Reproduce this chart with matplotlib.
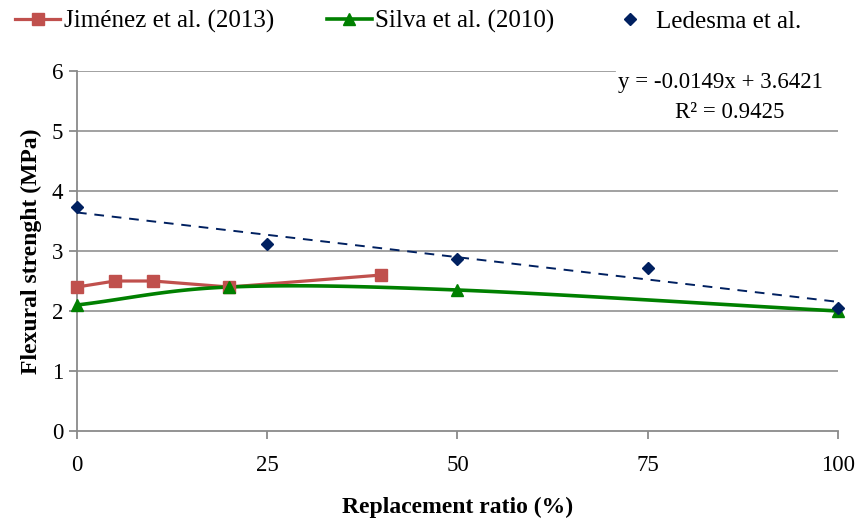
import numpy as np
import matplotlib.pyplot as plt

# Flexural strength vs replacement ratio
jimenez_x = [0, 5, 10, 20, 40]
jimenez_y = [2.4, 2.5, 2.5, 2.4, 2.6]

silva_x = [0, 20, 50, 100]
silva_y = [2.1, 2.4, 2.35, 2.0]

ledesma_x = [0, 25, 50, 75, 100]
ledesma_y = [3.73, 3.12, 2.87, 2.72, 2.05]

# linear trend reported for Ledesma et al.
slope, intercept, r2 = -0.0149, 3.6421, 0.9425

x_ticks = [0, 25, 50, 75, 100]
y_ticks = [0, 1, 2, 3, 4, 5, 6]

RED = '#C0504D'
GREEN = '#008000'
NAVY = '#002060'


def smooth(xs, ys, n=40):
    # Catmull-Rom curve through the points (like a spreadsheet's smoothed line)
    px = np.array(xs, float)
    py = np.array(ys, float)
    px = np.concatenate([[2 * px[0] - px[1]], px, [2 * px[-1] - px[-2]]])
    py = np.concatenate([[2 * py[0] - py[1]], py, [2 * py[-1] - py[-2]]])
    t = np.linspace(0, 1, n)
    outx, outy = [], []
    for i in range(1, len(px) - 2):
        for p, out in ((px, outx), (py, outy)):
            p0, p1, p2, p3 = p[i - 1], p[i], p[i + 1], p[i + 2]
            out.extend(0.5 * (2 * p1 + (-p0 + p2) * t
                              + (2 * p0 - 5 * p1 + 4 * p2 - p3) * t ** 2
                              + (-p0 + 3 * p1 - 3 * p2 + p3) * t ** 3))
    return outx, outy


plt.rcParams['font.family'] = ['Liberation Serif', 'DejaVu Serif']

fig = plt.figure(figsize=(8.61, 5.22), dpi=100)
ax = fig.add_axes([0.0894, 0.1743, 0.8839, 0.6897])

for yv in y_ticks[1:]:
    # the top gridline stops short of the equation label
    ax.axhline(yv, xmax=0.707 if yv == 6 else 1, color='#9a9a9a', lw=1.3,
               zorder=0)

ax.plot(jimenez_x, jimenez_y, '-', color=RED, lw=2.3, zorder=3, clip_on=False)
ax.plot(jimenez_x, jimenez_y, 's', color=RED, ms=8, zorder=4, clip_on=False)

sx, sy = smooth(silva_x, silva_y)
ax.plot(sx, sy, '-', color=GREEN, lw=2.6, zorder=3, clip_on=False)
ax.plot(silva_x, silva_y, '^', color=GREEN, ms=8, zorder=4, clip_on=False)

ax.plot(ledesma_x, ledesma_y, 'D', color=NAVY, ms=6.5, zorder=5,
        clip_on=False)
tx = np.array([0, 100])
ax.plot(tx, slope * tx + intercept, '--', color=NAVY, lw=1.4,
        dashes=(5, 4), zorder=2)

# legend handles
h1, = ax.plot([], [], '-s', color=RED, lw=2.3, ms=8)
h2, = ax.plot([], [], '-^', color=GREEN, lw=2.6, ms=8)
h3, = ax.plot([], [], 'D', color=NAVY, ms=6.5, lw=0)
fig.legend([h1, h2, h3],
           ['Jiménez et al. (2013)', 'Silva et al. (2010)', 'Ledesma et al.'],
           loc='upper left', bbox_to_anchor=(0.006, 1.0), borderaxespad=0,
           ncol=3, frameon=False, fontsize=18, handlelength=1.8,
           handletextpad=0.15, columnspacing=2.1)

ax.text(0.846, 0.967, 'y = -0.0149x + 3.6421', transform=ax.transAxes,
        ha='center', va='center', fontsize=16.5, zorder=6)
ax.text(0.858, 0.884, 'R² = 0.9425', transform=ax.transAxes,
        ha='center', va='center', fontsize=16.5, zorder=6)

ax.set_xlim(0, 100)
ax.set_ylim(0, 6)
ax.set_xticks(x_ticks)
ax.set_yticks(y_ticks)
ax.tick_params(axis='x', length=6, width=1.3, color='#8a8a8a', pad=11,
               labelsize=16.5)
ax.tick_params(axis='y', length=6, width=1.3, color='#8a8a8a', pad=4,
               labelsize=16.5)
for s in ['top', 'right']:
    ax.spines[s].set_visible(False)
for s in ['left', 'bottom']:
    ax.spines[s].set_color('#8a8a8a')
    ax.spines[s].set_linewidth(1.3)

ax.set_xlabel('Replacement ratio (%)', fontsize=17, fontweight='bold',
              labelpad=15)
ax.set_ylabel('Flexural strenght (MPa)', fontsize=17, fontweight='bold',
              labelpad=7)

fig.savefig('out.png', dpi=100)
